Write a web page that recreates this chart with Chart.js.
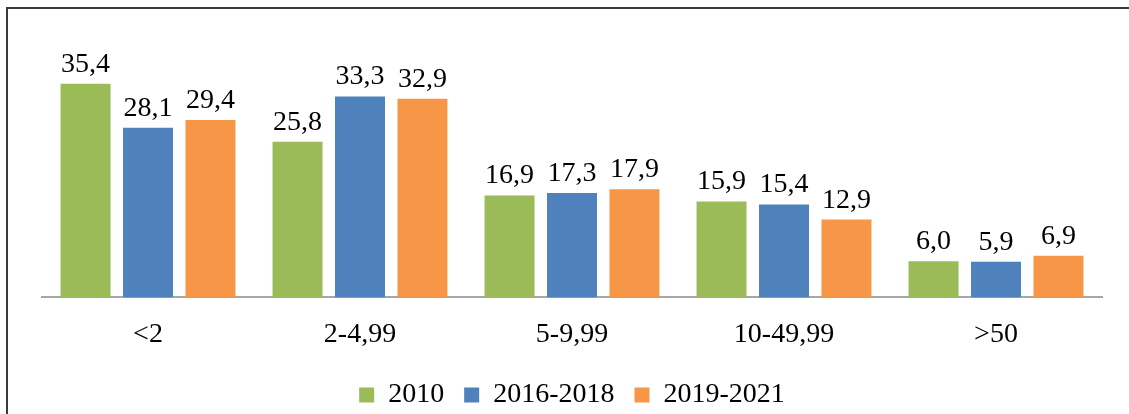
<!DOCTYPE html>
<html>
<head>
<meta charset="utf-8">
<script src="https://cdn.jsdelivr.net/npm/chart.js@4/dist/chart.umd.min.js"></script>
<style>
  html, body { margin: 0; padding: 0; background: #fff; overflow: hidden; }
  #wrap { position: relative; width: 1129px; height: 414px; }
  #frame {
    position: absolute; left: 6px; top: 7px; right: 0; bottom: -5px;
    border-left: 2px solid #3a3a3a; border-top: 2px solid #3a3a3a;
  }
  canvas { position: absolute; left: 0; top: 0; }
</style>
</head>
<body>
<div id="wrap">
  <div id="frame"></div>
  <canvas id="chart" width="1129" height="414"></canvas>
</div>
<script>
const categories = ["<2", "2-4,99", "5-9,99", "10-49,99", ">50"];
const values2010 = [35.4, 25.8, 16.9, 15.9, 6.0];
const values2016 = [28.1, 33.3, 17.3, 15.4, 5.9];
const values2019 = [29.4, 32.9, 17.9, 12.9, 6.9];
const seriesNames = ["2010", "2016-2018", "2019-2021"];
const colors = ["#9BBB59", "#4F81BD", "#F79646"];

const serif = "'Liberation Serif', 'Times New Roman', serif";

/* value labels above each bar */
const barLabels = {
  id: "barLabels",
  afterDatasetsDraw(chart) {
    const ctx = chart.ctx;
    ctx.save();
    ctx.font = "28px " + serif;
    ctx.fillStyle = "#000";
    ctx.textAlign = "center";
    ctx.textBaseline = "alphabetic";
    chart.data.datasets.forEach((ds, i) => {
      chart.getDatasetMeta(i).data.forEach((bar, j) => {
        ctx.fillText(ds.data[j].toFixed(1).replace(".", ","), bar.x, bar.y - 12);
      });
    });
    ctx.restore();
  }
};

new Chart(document.getElementById("chart"), {
  type: "bar",
  data: {
    labels: categories,
    datasets: [
      { label: seriesNames[0], data: values2010, backgroundColor: colors[0] },
      { label: seriesNames[1], data: values2016, backgroundColor: colors[1] },
      { label: seriesNames[2], data: values2019, backgroundColor: colors[2] }
    ]
  },
  options: {
    responsive: false,
    animation: false,
    layout: { padding: { left: 42, right: 27, top: 56, bottom: -5 } },
    datasets: { bar: { barPercentage: 0.8, categoryPercentage: 0.884 } },
    scales: {
      x: {
        grid: { display: false, drawTicks: false },
        border: { display: true, color: "#a6a6a6", width: 2 },
        ticks: { color: "#000", font: { family: serif, size: 28 }, padding: 20 },
        afterFit(scale) { scale.height -= 10; }
      },
      y: {
        display: false,
        min: 0,
        max: 40
      }
    },
    plugins: {
      legend: {
        position: "bottom",
        labels: {
          color: "#000",
          font: { family: serif, size: 28 },
          boxWidth: 15,
          boxHeight: 15,
          padding: 20
        }
      },
      tooltip: { enabled: false }
    }
  },
  plugins: [barLabels]
});
</script>
</body>
</html>
